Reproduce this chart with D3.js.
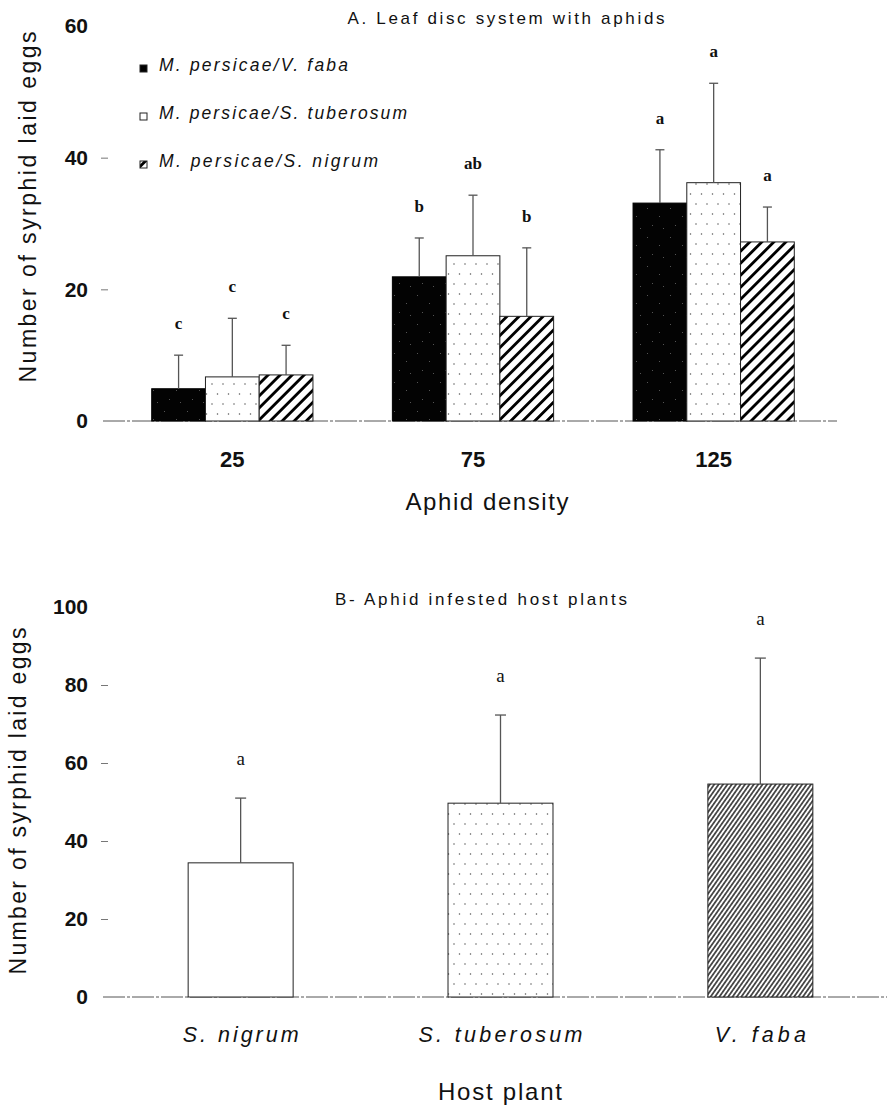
<!DOCTYPE html>
<html>
<head>
<meta charset="utf-8">
<script src="https://cdn.jsdelivr.net/npm/d3@7"></script>
<style>
body { margin: 0; background: #fff; }
svg { display: block; }
text { font-family: "Liberation Sans", Arial, sans-serif; fill: #111; }
</style>
</head>
<body>
<svg id="chart" width="887" height="1108"></svg>
<script>
// ---- data: panel A (leaf disc system) ----
const densities = ['25', '75', '125'];
const seriesA = ['M. persicae/V. faba', 'M. persicae/S. tuberosum', 'M. persicae/S. nigrum'];
const meanVfaba = [4.9, 21.9, 33.1];
const meanStuber = [6.7, 25.1, 36.2];
const meanSnigrum = [7.0, 15.9, 27.2];
const errVfaba = [5.1, 5.9, 8.1];
const errStuber = [8.9, 9.2, 15.1];
const errSnigrum = [4.5, 10.4, 5.3];
const lettersVfaba = ['c', 'b', 'a'];
const lettersStuber = ['c', 'ab', 'a'];
const lettersSnigrum = ['c', 'b', 'a'];
const ticksA = [0, 20, 40, 60];

// ---- data: panel B (infested host plants) ----
const hostPlants = ['S. nigrum', 'S. tuberosum', 'V. faba'];
const meanB = [34.4, 49.7, 54.6];
const errB = [16.6, 22.6, 32.3];
const lettersB = ['a', 'a', 'a'];
const ticksB = [0, 20, 40, 60, 80, 100];

const svg = d3.select('#chart');
const defs = svg.append('defs');

// fill patterns
const speck = defs.append('pattern').attr('id', 'speckle')
    .attr('patternUnits', 'userSpaceOnUse').attr('width', 23).attr('height', 29);
speck.append('rect').attr('width', 23).attr('height', 29).attr('fill', '#030303');
[[3, 5], [15, 13], [8, 22], [19, 25]].forEach(p => {
    speck.append('rect').attr('x', p[0]).attr('y', p[1]).attr('width', 1).attr('height', 1)
        .attr('fill', '#555');
});

const dots = defs.append('pattern').attr('id', 'dots')
    .attr('patternUnits', 'userSpaceOnUse').attr('width', 11).attr('height', 20);
dots.append('rect').attr('width', 11).attr('height', 20).attr('fill', '#fff');
dots.append('circle').attr('cx', 3).attr('cy', 4).attr('r', 0.75).attr('fill', '#555');
dots.append('circle').attr('cx', 8.5).attr('cy', 14).attr('r', 0.75).attr('fill', '#555');

const hatch = defs.append('pattern').attr('id', 'hatch')
    .attr('patternUnits', 'userSpaceOnUse').attr('width', 8.5).attr('height', 8.5)
    .attr('patternTransform', 'rotate(45)');
hatch.append('rect').attr('width', 8.5).attr('height', 8.5).attr('fill', '#fff');
hatch.append('line').attr('x1', 4.25).attr('x2', 4.25).attr('y1', 0).attr('y2', 8.5)
    .attr('stroke', '#000').attr('stroke-width', 2.8);

const fine = defs.append('pattern').attr('id', 'finehatch')
    .attr('patternUnits', 'userSpaceOnUse').attr('width', 3.6).attr('height', 3.6)
    .attr('patternTransform', 'rotate(35)');
fine.append('rect').attr('width', 3.6).attr('height', 3.6).attr('fill', '#fff');
fine.append('line').attr('x1', 1.8).attr('x2', 1.8).attr('y1', 0).attr('y2', 3.6)
    .attr('stroke', '#000').attr('stroke-width', 1.3);

function label(g, txt, x, y, size, opts = {}) {
    const t = g.append('text').attr('x', x).attr('y', y)
        .attr('font-size', size)
        .attr('text-anchor', opts.anchor || 'middle')
        .text(txt);
    if (opts.weight) t.attr('font-weight', opts.weight);
    if (opts.italic) t.attr('font-style', 'italic');
    if (opts.family) t.style('font-family', opts.family);
    if (opts.len) t.attr('textLength', opts.len).attr('lengthAdjust', 'spacing');
    if (opts.rotate) t.attr('transform', `rotate(-90,${x},${y})`);
    return t;
}

function styleAxis(ax, ticks) {
    const top = d3.max(ticks);
    ax.select('.domain').remove();
    ax.selectAll('line').attr('stroke', '#777');
    ax.selectAll('.tick').filter(d => d === top).select('line').remove();
    ax.selectAll('text').attr('font-size', 21).attr('font-weight', 'bold')
        .style('font-family', '"Liberation Sans", Arial, sans-serif').attr('fill', '#111');
}

// =================== Panel A ===================
const yA = d3.scaleLinear().domain([0, 60]).range([421, 26]);
const x0 = d3.scaleBand().domain(densities).range([112, 834])
    .paddingInner(0.33).paddingOuter(0.165);
const x1 = d3.scaleBand().domain(d3.range(seriesA.length)).range([0, x0.bandwidth()]);

const gA = svg.append('g');

const axA = gA.append('g').attr('transform', 'translate(108,0)')
    .call(d3.axisLeft(yA).tickValues(ticksA.filter(v => v > 0)).tickSize(7).tickPadding(13));
styleAxis(axA, ticksA);
axA.append('text').attr('x', -20).attr('y', yA(0)).attr('dy', '0.32em')
    .attr('text-anchor', 'end').attr('font-size', 21).attr('font-weight', 'bold')
    .style('font-family', '"Liberation Sans", Arial, sans-serif').attr('fill', '#111').text('0');

gA.append('line').attr('x1', 103).attr('x2', 837).attr('y1', yA(0)).attr('y2', yA(0))
    .attr('stroke', '#555').attr('stroke-width', 1).attr('stroke-dasharray', '22,2,3,2');

const meansA = [meanVfaba, meanStuber, meanSnigrum];
const errsA = [errVfaba, errStuber, errSnigrum];
const lettersA = [lettersVfaba, lettersStuber, lettersSnigrum];
const fillsA = ['url(#speckle)', 'url(#dots)', 'url(#hatch)'];

const cellsA = [];
densities.forEach((d, i) => {
    seriesA.forEach((s, j) => {
        cellsA.push({ d, j, mean: meansA[j][i], err: errsA[j][i], letter: lettersA[j][i] });
    });
});

gA.append('g').selectAll('rect').data(cellsA).join('rect')
    .attr('x', c => x0(c.d) + x1(c.j))
    .attr('y', c => yA(c.mean))
    .attr('width', x1.bandwidth())
    .attr('height', c => yA(0) - yA(c.mean))
    .attr('fill', c => fillsA[c.j])
    .attr('stroke', c => c.j === 0 ? '#000' : '#222')
    .attr('stroke-width', 1);

const cxA = c => x0(c.d) + x1(c.j) + x1.bandwidth() / 2;
const errA = gA.append('g').attr('stroke', '#555').attr('stroke-width', 1.3);
errA.selectAll('line.v').data(cellsA).join('line').attr('class', 'v')
    .attr('x1', cxA).attr('x2', cxA)
    .attr('y1', c => yA(c.mean)).attr('y2', c => yA(c.mean + c.err));
errA.selectAll('line.c').data(cellsA).join('line').attr('class', 'c')
    .attr('x1', c => cxA(c) - 4.5).attr('x2', c => cxA(c) + 4.5)
    .attr('y1', c => yA(c.mean + c.err)).attr('y2', c => yA(c.mean + c.err));

gA.append('g').selectAll('text').data(cellsA).join('text')
    .attr('x', cxA)
    .attr('y', c => yA(c.mean + c.err) - 26)
    .attr('text-anchor', 'middle')
    .attr('font-size', 17).attr('font-weight', 'bold')
    .style('font-family', '"Liberation Serif", "Times New Roman", serif')
    .text(c => c.letter);

// category labels
gA.append('g').selectAll('text').data(densities).join('text')
    .attr('x', d => x0(d) + x0.bandwidth() / 2)
    .attr('y', 467)
    .attr('text-anchor', 'middle')
    .attr('font-size', 22).attr('font-weight', 'bold')
    .text(d => d);

label(gA, 'Aphid density', 487, 510, 24, { len: 163 });
label(gA, 'A. Leaf disc system with aphids', 506, 24, 17, { len: 317 });
label(gA, 'Number of syrphid laid eggs', 36, 207, 23, { len: 351, rotate: true });

// legend
const legendLens = [189, 248, 219];
const legendFills = ['#000', '#fff', 'url(#hatch)'];
seriesA.forEach((s, j) => {
    const by = 71 + j * 48;
    gA.append('rect').attr('x', 140).attr('y', by - 6).attr('width', 7).attr('height', 7)
        .attr('fill', legendFills[j]).attr('stroke', '#222').attr('stroke-width', 1);
    label(gA, s, 159, by, 17.5, { anchor: 'start', italic: true, len: legendLens[j] });
});

// =================== Panel B ===================
const yB = d3.scaleLinear().domain([0, 100]).range([997, 607]);
const xB = d3.scaleBand().domain(hostPlants).range([105, 896])
    .paddingInner(0.596).paddingOuter(0.32);

const gB = svg.append('g');

const axB = gB.append('g').attr('transform', 'translate(108,0)')
    .call(d3.axisLeft(yB).tickValues(ticksB.filter(v => v > 0)).tickSize(7).tickPadding(13));
styleAxis(axB, ticksB);
axB.append('text').attr('x', -20).attr('y', yB(0)).attr('dy', '0.32em')
    .attr('text-anchor', 'end').attr('font-size', 21).attr('font-weight', 'bold')
    .style('font-family', '"Liberation Sans", Arial, sans-serif').attr('fill', '#111').text('0');

gB.append('line').attr('x1', 103).attr('x2', 887).attr('y1', yB(0)).attr('y2', yB(0))
    .attr('stroke', '#555').attr('stroke-width', 1).attr('stroke-dasharray', '22,2,3,2');

const fillsB = ['#fff', 'url(#dots)', 'url(#finehatch)'];
const cellsB = hostPlants.map((h, i) => ({ h, i, mean: meanB[i], err: errB[i], letter: lettersB[i] }));

gB.append('g').selectAll('rect').data(cellsB).join('rect')
    .attr('x', c => xB(c.h))
    .attr('y', c => yB(c.mean))
    .attr('width', xB.bandwidth())
    .attr('height', c => yB(0) - yB(c.mean))
    .attr('fill', c => fillsB[c.i])
    .attr('stroke', '#222').attr('stroke-width', 1);

const cxB = c => xB(c.h) + xB.bandwidth() / 2;
const errBg = gB.append('g').attr('stroke', '#555').attr('stroke-width', 1.3);
errBg.selectAll('line.v').data(cellsB).join('line').attr('class', 'v')
    .attr('x1', cxB).attr('x2', cxB)
    .attr('y1', c => yB(c.mean)).attr('y2', c => yB(c.mean + c.err));
errBg.selectAll('line.c').data(cellsB).join('line').attr('class', 'c')
    .attr('x1', c => cxB(c) - 5.5).attr('x2', c => cxB(c) + 5.5)
    .attr('y1', c => yB(c.mean + c.err)).attr('y2', c => yB(c.mean + c.err));

gB.append('g').selectAll('text').data(cellsB).join('text')
    .attr('x', cxB)
    .attr('y', c => yB(c.mean + c.err) - 33)
    .attr('text-anchor', 'middle')
    .attr('font-size', 19)
    .attr('fill', '#333')
    .style('font-family', '"Liberation Serif", "Times New Roman", serif')
    .text(c => c.letter);

const hostLens = [116, 164, 91];
hostPlants.forEach((h, i) => {
    label(gB, h, xB(h) + xB.bandwidth() / 2, 1042, 21.5, { italic: true, len: hostLens[i] });
});

label(gB, 'Host plant', 500, 1100, 24, { len: 124 });
label(gB, 'B- Aphid infested host plants', 481, 605, 17, { len: 292 });
label(gB, 'Number of syrphid laid eggs', 26, 801, 23, { len: 347, rotate: true });
</script>
</body>
</html>
